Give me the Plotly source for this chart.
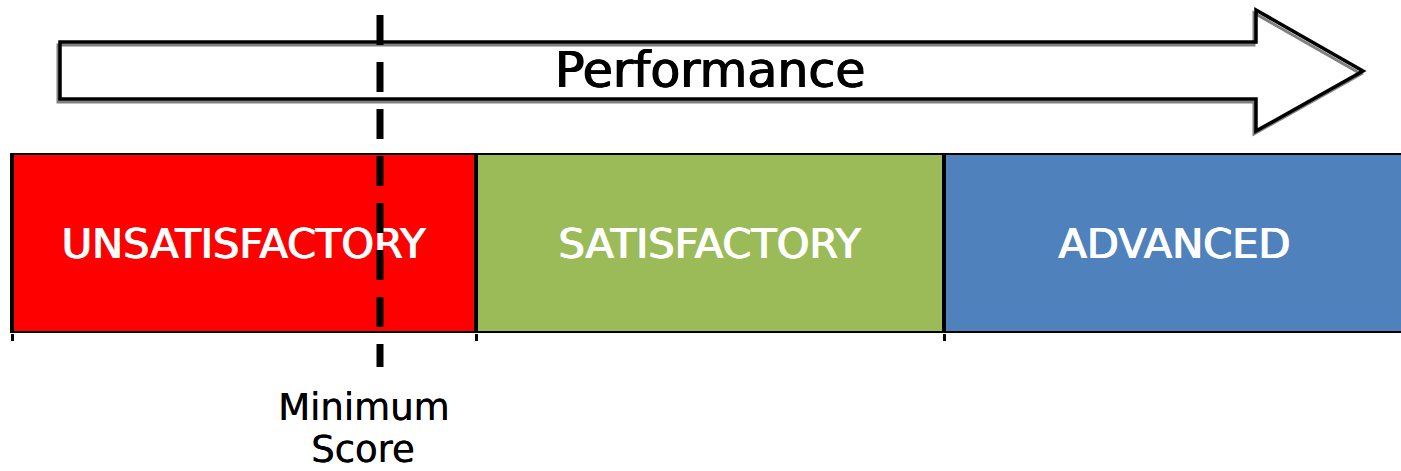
import plotly.graph_objects as go

# ---- data ----
levels = ["UNSATISFACTORY", "SATISFACTORY", "ADVANCED"]
level_start = [0, 464, 932]
level_end = [464, 932, 1393]
level_colors = ["#FF0000", "#9BBB59", "#4F81BD"]
minimum_score = 368
minimum_label_lines = ["Minimum", "Score"]
arrow_label = "Performance"

W, H = 1401, 471
FONT = "DejaVu Sans"


def px(x):
    return x / W


def py(y):
    return 1 - y / H


widths = [e - s for s, e in zip(level_start, level_end)]

fig = go.Figure()
fig.add_trace(go.Bar(
    y=["band"] * len(levels),
    x=widths,
    base=level_start,
    orientation="h",
    marker=dict(color=level_colors, line=dict(color="black", width=4)),
    text=levels,
    textposition="inside",
    insidetextanchor="middle",
    textangle=0,
    textfont=dict(color="white", size=41.5, family=FONT,
                  shadow="0.7px 0 0 white, -0.7px 0 0 white"),
    hoverinfo="skip",
    showlegend=False,
))

# arrow decoration (pixel layout -> paper)
arrow_pts = [(60, 42), (1256, 42), (1256, 10), (1363, 71),
             (1256, 131), (1256, 99), (60, 99)]


def path(pts, dx=0, dy=0):
    s = ""
    for i, (x, y) in enumerate(pts):
        s += ("M" if i == 0 else "L") + f"{px(x + dx):.5f},{py(y + dy):.5f} "
    return s + "Z"


shapes = [
    dict(type="path", xref="paper", yref="paper", path=path(arrow_pts, -2, 3),
         line=dict(color="#808080", width=3), layer="above"),
    dict(type="path", xref="paper", yref="paper", path=path(arrow_pts),
         line=dict(color="black", width=3.5), layer="above"),
    dict(type="line", xref="x", yref="paper", x0=minimum_score, x1=minimum_score,
         y0=py(15), y1=py(367), line=dict(color="black", width=7, dash="30px,17px"),
         layer="above"),
]

annotations = [
    dict(text=arrow_label, xref="paper", yref="paper", x=px(711), y=py(71),
         xanchor="center", yanchor="middle", showarrow=False,
         font=dict(size=49, color="black", family=FONT,
                   shadow="0.7px 0 0 black, -0.7px 0 0 black")),
]
for line_text, ypix in zip(minimum_label_lines, [407, 449]):
    annotations.append(dict(
        text=line_text, xref="x", yref="paper", x=minimum_score, xshift=-17,
        y=py(ypix), xanchor="center", yanchor="middle", showarrow=False,
        font=dict(size=37, color="black", family=FONT, shadow="0.4px 0 0 black")))

fig.update_layout(
    width=W, height=H,
    margin=dict(l=0, r=0, t=0, b=0),
    paper_bgcolor="white", plot_bgcolor="white",
    barmode="overlay", bargap=0,
    shapes=shapes, annotations=annotations,
    xaxis=dict(range=[-12, W - 12], tickvals=level_start, ticks="outside",
               ticklen=7, tickwidth=3, tickcolor="black", showticklabels=False,
               showgrid=False, zeroline=False, showline=False, fixedrange=True),
    yaxis=dict(domain=[py(333), py(153)], showticklabels=False, showgrid=False,
               zeroline=False, showline=False, fixedrange=True),
)

fig.write_html("out.html", config={"displayModeBar": False},
               post_script="document.body.style.margin='0';document.body.style.overflow='hidden';")
